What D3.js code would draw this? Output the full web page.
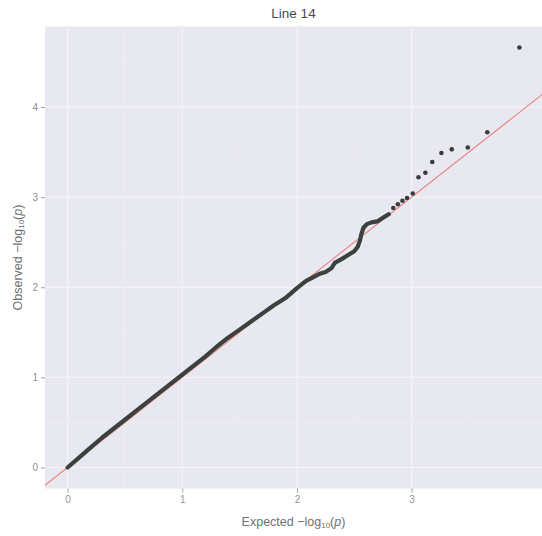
<!DOCTYPE html>
<html>
<head>
<meta charset="utf-8">
<script src="https://cdn.jsdelivr.net/npm/d3@7"></script>
<style>
    body { margin: 0; background: #fff; }
    text { font-family: "Liberation Sans", Arial, sans-serif; }
</style>
</head>
<body>
<div id="chart"></div>
<script>
// QQ plot

const chartTitle = 'Line 14';

// dense part of the curve (overlapping points)
const expectedDense = [0.00, 0.10, 0.20, 0.30, 0.40, 0.50, 0.60, 0.70, 0.80, 0.90,
    1.00, 1.10, 1.20, 1.30, 1.40, 1.50, 1.60, 1.70, 1.80, 1.90,
    2.00, 2.08, 2.14, 2.20, 2.25, 2.30, 2.33, 2.40, 2.45, 2.50,
    2.53, 2.55, 2.56, 2.58, 2.61, 2.65, 2.70, 2.75, 2.80];
const observedDense = [0.00, 0.11, 0.22, 0.33, 0.43, 0.53, 0.63, 0.73, 0.83, 0.93,
    1.03, 1.13, 1.23, 1.34, 1.44, 1.53, 1.62, 1.71, 1.80, 1.88,
    1.99, 2.07, 2.11, 2.15, 2.17, 2.21, 2.27, 2.32, 2.36, 2.40,
    2.45, 2.52, 2.58, 2.66, 2.70, 2.72, 2.73, 2.77, 2.81];

// separate points in the tail
const expectedTail = [3.94, 3.66, 3.49, 3.35, 3.26, 3.18, 3.12, 3.06, 3.01, 2.96, 2.92, 2.88, 2.84];
const observedTail = [4.66, 3.72, 3.55, 3.53, 3.49, 3.39, 3.27, 3.22, 3.04, 2.99, 2.96, 2.92, 2.88];

const xTicks = [0, 1, 2, 3];
const yTicks = [0, 1, 2, 3, 4];
const xMinor = [0.5, 1.5, 2.5, 3.5];
const yMinor = [0.5, 1.5, 2.5, 3.5, 4.5];

const width = 542,
    height = 536,
    panel = { left: 45, right: 542, top: 26.5, bottom: 488.5 };

const svg = d3.select('#chart').append('svg')
    .attr('width', width)
    .attr('height', height);

// ggplot style 5% expansion
function expand(extent) {
    const pad = (extent[1] - extent[0]) * 0.05;
    return [extent[0] - pad, extent[1] + pad];
}

const allX = expectedDense.concat(expectedTail),
    allY = observedDense.concat(observedTail);

const x = d3.scaleLinear()
    .domain(expand(d3.extent(allX)))
    .range([panel.left, panel.right]);

const y = d3.scaleLinear()
    .domain(expand(d3.extent(allY)))
    .range([panel.bottom, panel.top]);

svg.append('clipPath')
    .attr('id', 'clip')
    .append('rect')
    .attr('x', panel.left)
    .attr('y', panel.top)
    .attr('width', panel.right - panel.left)
    .attr('height', panel.bottom - panel.top);

svg.append('rect')
    .attr('x', panel.left)
    .attr('y', panel.top)
    .attr('width', panel.right - panel.left)
    .attr('height', panel.bottom - panel.top)
    .attr('fill', '#e8e8f0');

const grid = svg.append('g').attr('clip-path', 'url(#clip)');

grid.selectAll('.vminor').data(xMinor).enter().append('line')
    .attr('x1', d => x(d)).attr('x2', d => x(d))
    .attr('y1', panel.top).attr('y2', panel.bottom)
    .attr('stroke', '#eeeef4').attr('stroke-width', 0.6);

grid.selectAll('.hminor').data(yMinor).enter().append('line')
    .attr('y1', d => y(d)).attr('y2', d => y(d))
    .attr('x1', panel.left).attr('x2', panel.right)
    .attr('stroke', '#eeeef4').attr('stroke-width', 0.6);

grid.selectAll('.vmajor').data(xTicks).enter().append('line')
    .attr('x1', d => x(d)).attr('x2', d => x(d))
    .attr('y1', panel.top).attr('y2', panel.bottom)
    .attr('stroke', '#f5f5f9').attr('stroke-width', 1);

grid.selectAll('.hmajor').data(yTicks).enter().append('line')
    .attr('y1', d => y(d)).attr('y2', d => y(d))
    .attr('x1', panel.left).attr('x2', panel.right)
    .attr('stroke', '#f5f5f9').attr('stroke-width', 1);

// reference line y = x
const refDomain = x.domain();
grid.append('line')
    .attr('x1', x(refDomain[0])).attr('y1', y(refDomain[0]))
    .attr('x2', x(refDomain[1])).attr('y2', y(refDomain[1]))
    .attr('stroke', '#ec8080')
    .attr('stroke-width', 1.1);

// dense points drawn as a thick band
const dense = expectedDense.map((d, i) => [d, observedDense[i]]);
const line = d3.line()
    .x(d => x(d[0]))
    .y(d => y(d[1]));

grid.append('path')
    .datum(dense)
    .attr('d', line)
    .attr('fill', 'none')
    .attr('stroke', '#3b423d')
    .attr('stroke-width', 4.2)
    .attr('stroke-linecap', 'round')
    .attr('stroke-linejoin', 'round');

const tail = expectedTail.map((d, i) => [d, observedTail[i]]);
grid.selectAll('.pt').data(tail).enter().append('circle')
    .attr('cx', d => x(d[0]))
    .attr('cy', d => y(d[1]))
    .attr('r', 2.3)
    .attr('fill', '#3b3d3d');

// axes
const axisX = d3.axisBottom(x).tickValues(xTicks).tickSize(4).tickPadding(3).tickFormat(d3.format('d'));
const axisY = d3.axisLeft(y).tickValues(yTicks).tickSize(4).tickPadding(3).tickFormat(d3.format('d'));

const gx = svg.append('g')
    .attr('transform', 'translate(0, ' + panel.bottom + ')')
    .call(axisX);
const gy = svg.append('g')
    .attr('transform', 'translate(' + panel.left + ', 0)')
    .call(axisY);

[gx, gy].forEach(g => {
    g.select('.domain').remove();
    g.selectAll('.tick line').attr('stroke', '#a0a0a0');
    g.selectAll('.tick text')
        .attr('fill', '#939393')
        .style('font-size', '10px');
});

// titles
svg.append('text')
    .attr('x', (panel.left + panel.right) / 2)
    .attr('y', 18)
    .attr('text-anchor', 'middle')
    .attr('fill', '#4a4a4a')
    .style('font-size', '13.5px')
    .text(chartTitle);

function axisTitle(sel, word) {
    sel.append('tspan').text(word + ' \u2212log');
    sel.append('tspan').attr('baseline-shift', '-25%').style('font-size', '8px').text('10');
    sel.append('tspan').text('(');
    sel.append('tspan').style('font-style', 'italic').text('p');
    sel.append('tspan').text(')');
}

svg.append('text')
    .attr('x', (panel.left + panel.right) / 2)
    .attr('y', 526)
    .attr('text-anchor', 'middle')
    .attr('fill', '#707070')
    .style('font-size', '12.5px')
    .call(axisTitle, 'Expected');

svg.append('text')
    .attr('transform', 'translate(22, ' + (panel.top + panel.bottom) / 2 + ') rotate(-90)')
    .attr('text-anchor', 'middle')
    .attr('fill', '#707070')
    .style('font-size', '12.5px')
    .call(axisTitle, 'Observed');
</script>
</body>
</html>
